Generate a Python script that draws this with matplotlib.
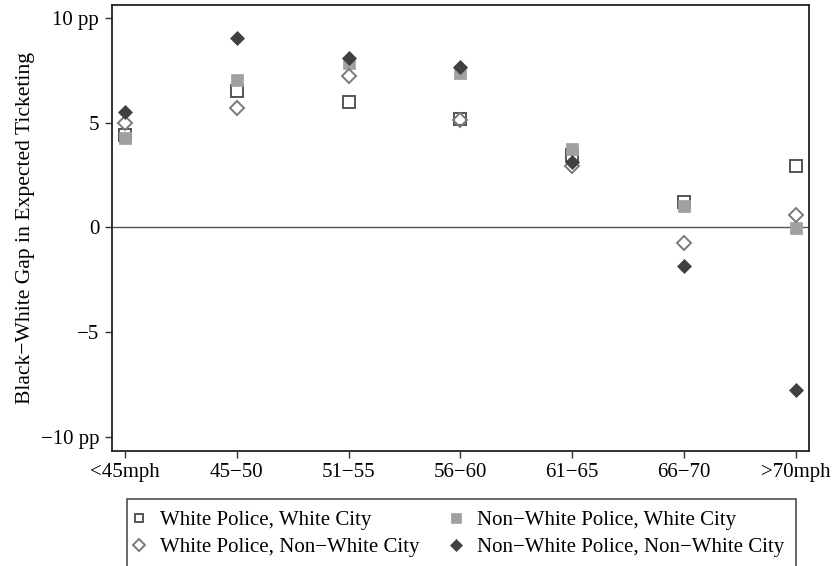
import matplotlib
matplotlib.use("Agg")
import matplotlib.pyplot as plt

categories = ["<45mph", "45\u221250", "51\u221255", "56\u221260", "61\u221265", "66\u221270", ">70mph"]
wp_wc = [4.4, 6.52, 5.98, 5.18, 3.45, 1.2, 2.94]
wp_nwc = [5.0, 5.72, 7.23, 5.15, 2.95, -0.76, 0.6]
nwp_wc = [4.25, 7.04, 7.84, 7.36, 3.75, 1.03, -0.02]
nwp_nwc = [5.5, 9.06, 8.09, 7.65, 3.11, -1.82, -7.76]

ytick_vals = [-10, -5, 0, 5, 10]
ytick_labels = ["\u221210 pp", "\u22125", "0", "5", "10 pp"]
ylabel = "Black\u2212White Gap in Expected Ticketing"

plt.rcParams['font.family'] = ['Liberation Serif', 'DejaVu Serif']
plt.rcParams['font.size'] = 15

fig = plt.figure(figsize=(8.34, 5.66), dpi=100)
ax = fig.add_axes([0.1339, 0.2032, 0.8365, 0.7880])

x = list(range(len(categories)))
ax.axhline(0, color="#555555", lw=1.0, zorder=1)

h1, = ax.plot(x, wp_wc, ls="none", marker="s", ms=8.0, mfc="none", mec="#555555", mew=1.4,
              label="White Police, White City", zorder=3)
h3, = ax.plot(x, nwp_wc, ls="none", marker="s", ms=8.6, mfc="#a0a0a0", mec="#a0a0a0", mew=0.5,
              label="Non\u2212White Police, White City", zorder=4)
h2, = ax.plot(x, wp_nwc, ls="none", marker="D", ms=7.2, mfc="none", mec="#7a7a7a", mew=1.4,
              label="White Police, Non\u2212White City", zorder=5)
h4, = ax.plot(x, nwp_nwc, ls="none", marker="D", ms=7.6, mfc="#404040", mec="#404040", mew=0.5,
              label="Non\u2212White Police, Non\u2212White City", zorder=6)

ax.set_xlim(-0.12, 6.12)
ax.set_ylim(-10.67, 10.62)
ax.set_xticks(x)
ax.set_xticklabels(categories)
ax.set_yticks(ytick_vals)
ax.set_yticklabels(ytick_labels)
ax.set_ylabel(ylabel, labelpad=4, fontsize=15.6)
ax.tick_params(direction="out", length=5, width=1.0, color="#333333", pad=4)
for s in ax.spines.values():
    s.set_linewidth(1.3)
    s.set_color("#222222")

leg = fig.legend(handles=[h1, h2, h3, h4], ncol=2, loc="upper left",
                 bbox_to_anchor=(0.1523, 0.1184), frameon=True, fancybox=False,
                 edgecolor="#222222", handlelength=0.05, handletextpad=0.99,
                 columnspacing=1.73, labelspacing=0.35, borderpad=0.55,
                 borderaxespad=0.0, markerscale=0.8)
leg.get_frame().set_linewidth(1.2)

fig.savefig("out.png", dpi=100)
